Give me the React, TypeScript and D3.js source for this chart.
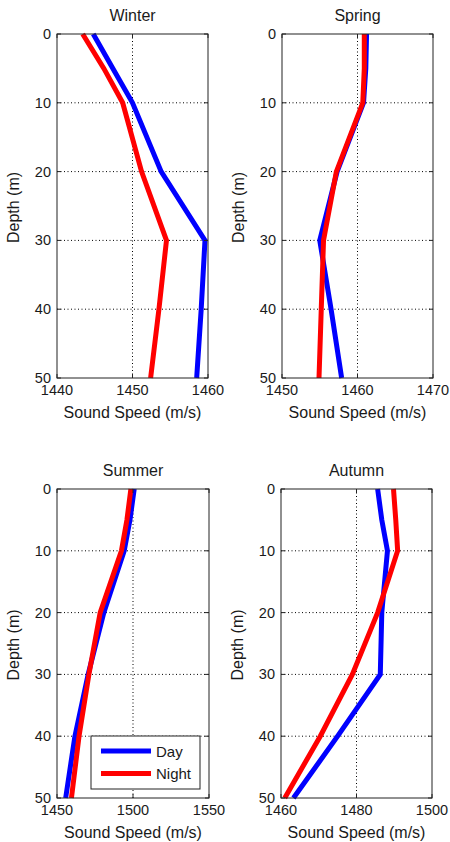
import React from "react";
import * as d3 from "d3";

const depths = [0, 5, 10, 20, 30, 40, 50];
const depthTicks = [0, 10, 20, 30, 40, 50];

const winterDay = [1444.8, 1447.4, 1450.0, 1453.8, 1459.6, 1459.1, 1458.5];
const winterNight = [1443.4, 1446.2, 1448.7, 1451.2, 1454.5, 1453.5, 1452.4];
const springDay = [1461.2, 1461.1, 1460.8, 1457.3, 1455.0, 1456.5, 1457.9];
const springNight = [1460.9, 1460.9, 1460.7, 1457.2, 1455.5, 1455.2, 1454.9];
const summerDay = [1500.8, 1498.0, 1494.2, 1480.8, 1470.5, 1461.8, 1455.7];
const summerNight = [1498.6, 1496.0, 1492.4, 1478.4, 1471.0, 1464.5, 1459.5];
const autumnDay = [1485.6, 1486.7, 1488.2, 1486.7, 1486.3, 1475.0, 1463.3];
const autumnNight = [1489.8, 1490.4, 1490.9, 1485.6, 1478.9, 1470.4, 1461.0];

const seasons = ["Winter", "Spring", "Summer", "Autumn"];
const xTickSets = [
  [1440, 1450, 1460],
  [1450, 1460, 1470],
  [1450, 1500, 1550],
  [1460, 1480, 1500],
];
const dayValues = [winterDay, springDay, summerDay, autumnDay];
const nightValues = [winterNight, springNight, summerNight, autumnNight];
const seriesNames = ["Day", "Night"];
const seriesColors = ["#0000ff", "#ff0000"];

const panelBoxes = [
  { x: 57, y: 34, w: 151, h: 344 },
  { x: 282, y: 34, w: 151, h: 344 },
  { x: 57, y: 489, w: 152, h: 309 },
  { x: 281, y: 489, w: 151, h: 309 },
];

const FONT = "'Liberation Sans', Arial, sans-serif";
const TXT = "#1a1a1a";
const TICK_FS = 14.5;
const LABEL_FS = 16;

function Panel({ idx }: { idx: number }) {
  const b = panelBoxes[idx];
  const xt = xTickSets[idx];
  const x = d3.scaleLinear().domain([xt[0], xt[xt.length - 1]]).range([b.x, b.x + b.w]);
  const y = d3.scaleLinear().domain([0, 50]).range([b.y, b.y + b.h]);
  const line = d3
    .line<number>()
    .x((v) => x(v))
    .y((_, i) => y(depths[i]));
  const series = [dayValues[idx], nightValues[idx]];
  const tl = 4;
  return (
    <g>
      <rect x={b.x} y={b.y} width={b.w} height={b.h} fill="#fff" />
      {xt.slice(1, -1).map((t) => (
        <line key={"gx" + t} x1={x(t)} x2={x(t)} y1={b.y} y2={b.y + b.h} stroke="#000" strokeWidth={1} strokeDasharray="1,2.5" />
      ))}
      {depthTicks.slice(1, -1).map((t) => (
        <line key={"gy" + t} x1={b.x} x2={b.x + b.w} y1={y(t)} y2={y(t)} stroke="#000" strokeWidth={1} strokeDasharray="1,2.5" />
      ))}
      {series.map((s, i) => (
        <path key={i} d={line(s) || ""} fill="none" stroke={seriesColors[i]} strokeWidth={5} strokeLinejoin="miter" />
      ))}
      <rect x={b.x} y={b.y} width={b.w} height={b.h} fill="none" stroke="#222" strokeWidth={1} />
      {xt.map((t) => (
        <g key={"tx" + t}>
          <line x1={x(t)} x2={x(t)} y1={b.y + b.h} y2={b.y + b.h - tl} stroke="#222" />
          <line x1={x(t)} x2={x(t)} y1={b.y} y2={b.y + tl} stroke="#222" />
          <text x={x(t)} y={b.y + b.h + 17} textAnchor="middle" fontSize={TICK_FS} fontFamily={FONT} fill={TXT}>
            {t}
          </text>
        </g>
      ))}
      {depthTicks.map((t) => (
        <g key={"ty" + t}>
          <line x1={b.x} x2={b.x + tl} y1={y(t)} y2={y(t)} stroke="#222" />
          <line x1={b.x + b.w} x2={b.x + b.w - tl} y1={y(t)} y2={y(t)} stroke="#222" />
          <text x={b.x - 6} y={y(t) + 5} textAnchor="end" fontSize={TICK_FS} fontFamily={FONT} fill={TXT}>
            {t}
          </text>
        </g>
      ))}
      <text x={b.x + b.w / 2} y={b.y - 13} textAnchor="middle" fontSize={LABEL_FS} fontFamily={FONT} fill={TXT}>
        {seasons[idx]}
      </text>
      <text x={b.x + b.w / 2} y={b.y + b.h + 40} textAnchor="middle" fontSize={LABEL_FS} fontFamily={FONT} fill={TXT}>
        Sound Speed (m/s)
      </text>
      <text
        transform={`translate(${b.x - 38},${b.y + b.h / 2 + 1.5}) rotate(-90)`}
        textAnchor="middle"
        fontSize={LABEL_FS}
        fontFamily={FONT}
        fill={TXT}
      >
        Depth (m)
      </text>
    </g>
  );
}

function Legend() {
  const lx = 91;
  const ly = 736;
  const lw = 109;
  const lh = 53;
  return (
    <g>
      <rect x={lx} y={ly} width={lw} height={lh} fill="#fff" stroke="#222" strokeWidth={1} />
      {seriesNames.map((n, i) => {
        const yy = ly + 15 + i * 22.5;
        return (
          <g key={n}>
            <line x1={lx + 10} x2={lx + 60} y1={yy} y2={yy} stroke={seriesColors[i]} strokeWidth={5} />
            <text x={lx + 65} y={yy + 5.5} fontSize={15} fontFamily={FONT} fill={TXT}>
              {n}
            </text>
          </g>
        );
      })}
    </g>
  );
}

export default function App() {
  return (
    <svg
      width={450}
      height={842}
      style={{ position: "absolute", left: 0, top: 0, background: "#fff" }}
    >
      <rect x={0} y={0} width={450} height={842} fill="#fff" />
      {seasons.map((_, i) => (
        <Panel key={i} idx={i} />
      ))}
      <Legend />
    </svg>
  );
}
